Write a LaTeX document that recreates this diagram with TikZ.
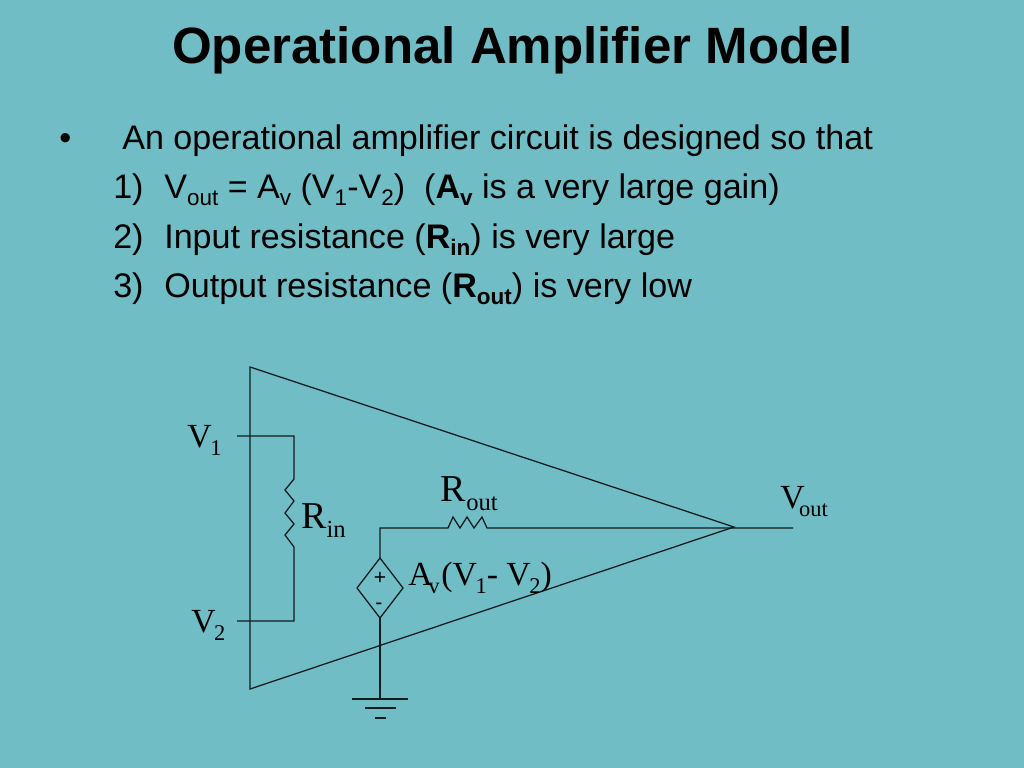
\documentclass[tikz,border=0pt]{standalone}
\usepackage{fontspec}
\setmainfont{Liberation Serif}
\setsansfont{Liberation Sans}
\usetikzlibrary{shapes.geometric}
\definecolor{slidebg}{RGB}{112,189,197}
\newcommand{\lowtext}[2]{\raisebox{-#1}{#2}}
\newcommand{\bodysub}[1]{\lowtext{5.4pt}{\fontsize{16}{16}\selectfont #1}}
\newcommand{\serifsub}[1]{\lowtext{6pt}{\fontsize{16}{16}\selectfont #1}}
\newcommand{\bigsub}[1]{\lowtext{6.4pt}{\fontsize{17.5}{17.5}\selectfont #1}}
\tikzset{
  px/.style={x=0.025cm,y=-0.025cm},
  wire/.style={line width=0.9pt,black!85!slidebg},
  titletext/.style={anchor=base west,inner sep=0pt,font=\sffamily\bfseries\fontsize{36.3}{36.3}\selectfont},
  bodytext/.style={anchor=base west,inner sep=0pt,font=\sffamily\fontsize{24.25}{24.25}\selectfont},
  smalllabel/.style={anchor=base west,inner sep=0pt,font=\rmfamily\fontsize{24}{24}\selectfont},
  biglabel/.style={anchor=base west,inner sep=0pt,font=\rmfamily\fontsize{27}{27}\selectfont},
  signtext/.style={inner sep=0pt,font=\sffamily\fontsize{15}{15}\selectfont},
  depsource/.style={draw,wire,diamond,inner sep=0pt,outer sep=0pt,minimum width=1.15cm,minimum height=1.5cm}
}
\begin{document}
\begin{tikzpicture}[px]
  \useasboundingbox[fill=slidebg] (0,0) rectangle (1024,768);
  \node[titletext] (title) at (172,64) {Operational Amplifier Model};
  \node[bodytext] (bullet) at (59,150) {•};
  \node[bodytext] (intro) at (122,150) {An operational amplifier circuit is designed so that};
  \node[bodytext] (num1) at (113,198) {1)};
  \node[bodytext] (item1) at (164,198) {V\bodysub{out} = A\bodysub{v} (V\bodysub{1}-V\bodysub{2})\ \ (\textbf{A\bodysub{\bfseries v}} is a very large gain)};
  \node[bodytext] (num2) at (113,248) {2)};
  \node[bodytext] (item2) at (164,248) {Input resistance (\textbf{R\bodysub{\bfseries in}}) is very large};
  \node[bodytext] (num3) at (113,297) {3)};
  \node[bodytext] (item3) at (164,297) {Output resistance (\textbf{R\bodysub{\bfseries out}}) is very low};
  % amplifier outline
  \draw
    (250,367) coordinate (topleft)
    (250,689) coordinate (botleft)
    (734,527) coordinate (tip);
  \draw[wire] (topleft) -- (botleft) -- (tip) -- cycle;
  % input side
  \draw
    (237,436) coordinate (in1)
    (237,621) coordinate (in2)
    (294,436) coordinate (rinA)
    (294,479) coordinate (rinB)
    (294,547) coordinate (rinC)
    (294,621) coordinate (rinD);
  \draw[wire] (in1) -- (rinA) -- (rinB)
    -- ++(-9,11) -- ++(9,11) -- ++(-9,12) -- ++(9,11) -- ++(-9,11) -- (rinC)
    -- (rinD) -- (in2);
  % output side
  \node[depsource] (src) at (380,588) {};
  \draw
    (380,528) coordinate (corner)
    (448,528) coordinate (routA)
    (487,528) coordinate (routB)
    (793,528) coordinate (outend)
    (380,699) coordinate (gnd);
  \draw[wire] (src.north) -- (corner) -- (routA)
    -- ++(5,-11) -- ++(7,11) -- ++(7,-11) -- ++(7,11) -- ++(8,-11) -- (routB)
    -- (outend);
  \draw[wire] (src.south) -- (gnd);
  \draw
    (352,699) coordinate (g1a) (408,699) coordinate (g1b)
    (365,708) coordinate (g2a) (396,708) coordinate (g2b)
    (375,718) coordinate (g3a) (386,718) coordinate (g3b);
  \draw[wire] (g1a) -- (g1b);
  \draw[wire] (g2a) -- (g2b);
  \draw[wire] (g3a) -- (g3b);
  \node[signtext] (plus) at (380,578) {+};
  \node[signtext] (minus) at (379,606) {-};
  % labels
  \node[smalllabel] (v1) at (187,447) {V\kern-1pt\serifsub{1}};
  \node[smalllabel] (v2) at (191,632) {V\kern-1pt\serifsub{2}};
  \node[biglabel] (rin) at (301,528) {R\kern0pt\bigsub{in}};
  \node[biglabel] (rout) at (440,501) {R\kern0.5pt\bigsub{out}};
  \node[smalllabel] (vout) at (780,508) {V\kern-4pt\serifsub{out}};
  \node[smalllabel] (gain) at (408,585) {A\kern-3pt\serifsub{v}\kern1.2pt(V\kern-1pt\serifsub{1}- V\kern-1pt\serifsub{2})};
\end{tikzpicture}
\end{document}
